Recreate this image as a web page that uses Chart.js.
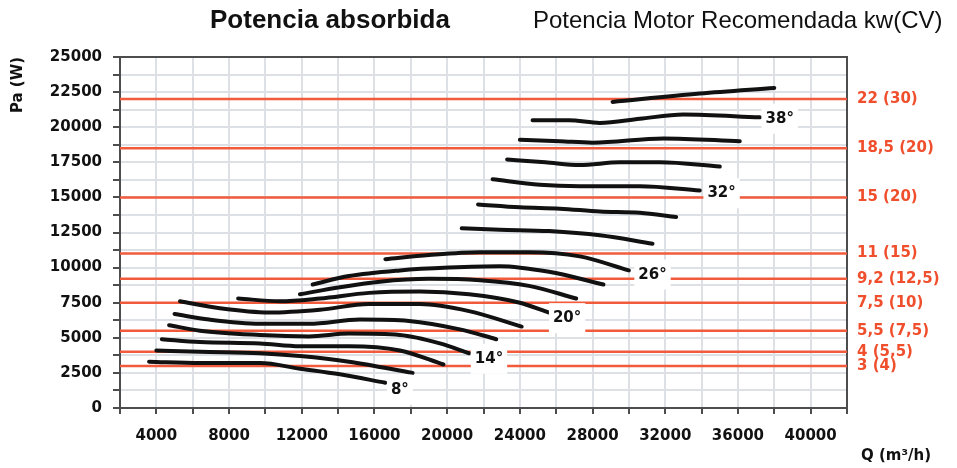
<!DOCTYPE html>
<html>
<head>
<meta charset="utf-8">
<script src="https://cdn.jsdelivr.net/npm/chart.js@4"></script>
<style>
  html, body { margin: 0; padding: 0; background: #fff; }
  #wrap { position: relative; width: 957px; height: 468px; }
  #c { position: absolute; left: 0; top: 0; }
  .t { position: absolute; white-space: nowrap; font-family: "Liberation Sans"; color: #111; }
</style>
</head>
<body>
<div id="wrap">
  <canvas id="c" width="957" height="468"></canvas>
  <div class="t" style="left:210px;top:4px;font-size:26px;font-weight:bold;">Potencia absorbida</div>
  <div class="t" style="left:533px;top:6px;font-size:24px;">Potencia Motor Recomendada kw(CV)</div>
</div>
<script>
// curvas de potencia absorbida por ángulo de pala: caudal Q (m3/h) y potencia (W)
const q8  = [3600, 6400, 9700, 11900, 14100, 16600];
const p8  = [3300, 3200, 3200, 2800, 2400, 1800];
const q10 = [4000, 6400, 9700, 11900, 14600, 18100];
const p10 = [4100, 4000, 3900, 3700, 3300, 2500];
const q12 = [4300, 6400, 9700, 11900, 14600, 17400, 19800];
const p12 = [4900, 4700, 4600, 4400, 4400, 4100, 3100];
const q14 = [4700, 6400, 9700, 12400, 14600, 17400, 19600, 21200];
const p14 = [5900, 5500, 5200, 5100, 5300, 5200, 4600, 3900];
const q16 = [5000, 6900, 9700, 12400, 15200, 17900, 20700, 22700];
const p16 = [6700, 6300, 6000, 6000, 6300, 6200, 5600, 4900];
const q18 = [5300, 7500, 10200, 13000, 15700, 18500, 21200, 24100];
const p18 = [7600, 7100, 6800, 7000, 7400, 7400, 6900, 5800];
const q20 = [8500, 10800, 13000, 15700, 18500, 21200, 24000, 25600];
const p20 = [7800, 7600, 7800, 8200, 8300, 8100, 7500, 6800];
const q22 = [11900, 14100, 16300, 19000, 21800, 24500, 27100];
const p22 = [8100, 8600, 9000, 9200, 9100, 8700, 7800];
const q24 = [12600, 14600, 17400, 20100, 22900, 25600, 28600];
const p24 = [8800, 9400, 9800, 10000, 10100, 9700, 8800];
const q26 = [16600, 19000, 21800, 24500, 27300, 30000];
const p26 = [10600, 10900, 11100, 11100, 10800, 9800];
const q28 = [20800, 22900, 25600, 28400, 31300];
const p28 = [12800, 12700, 12600, 12300, 11700];
const q30 = [21700, 24000, 26200, 28400, 30600, 32600];
const p30 = [14500, 14300, 14200, 14000, 13900, 13600];
const q32 = [22500, 25100, 27300, 30600, 33900];
const p32 = [16300, 15900, 15800, 15800, 15500];
const q34 = [23300, 25400, 27300, 29500, 31700, 35000];
const p34 = [17700, 17500, 17300, 17500, 17500, 17200];
const q36 = [24000, 26200, 28000, 31900, 36100];
const p36 = [19100, 19000, 18900, 19200, 19000];
const q38 = [24700, 26700, 28400, 30600, 33000, 37200];
const p38 = [20500, 20500, 20300, 20600, 20900, 20700];
const q40 = [29100, 33900, 38000];
const p40 = [21800, 22400, 22800];

// potencias de motor recomendadas (W) y su rótulo kw(CV)
const motorW = [3000, 4000, 5500, 7500, 9200, 11000, 15000, 18500, 22000];
const motorLabels = ['3 (4)', '4 (5,5)', '5,5 (7,5)', '7,5 (10)', '9,2 (12,5)', '11 (15)', '15 (20)', '18,5 (20)', '22 (30)'];

// rótulos de ángulo y dónde van
const angleLabels = ['8°', '14°', '20°', '26°', '32°', '38°'];
const angleQ = [17400, 22300, 26600, 31300, 35100, 38300];
const angleP = [1300, 3500, 6400, 9500, 15300, 20600];

const curves = [[q8, p8], [q10, p10], [q12, p12], [q14, p14], [q16, p16], [q18, p18],
  [q20, p20], [q22, p22], [q24, p24], [q26, p26], [q28, p28], [q30, p30],
  [q32, p32], [q34, p34], [q36, p36], [q38, p38], [q40, p40]];

const toPts = (qs, ps) => qs.map((v, i) => ({ x: v, y: ps[i] }));

const datasets = [];
motorW.forEach((w) => {
  datasets.push({
    data: [{ x: 2000, y: w }, { x: 42000, y: w }],
    borderColor: '#f25a3c', borderWidth: 2.5, pointRadius: 0, order: 2,
  });
});
curves.forEach(([qs, ps]) => {
  datasets.push({
    data: toPts(qs, ps),
    borderColor: '#111', borderWidth: 4, pointRadius: 0, order: 1,
    cubicInterpolationMode: 'monotone', borderCapStyle: 'round',
  });
});

const FONT = '"DejaVu Sans"';
const AXIS = '#4d4d4d';
const GRID = '#dde1e5';

const extras = {
  id: 'extras',
  beforeDatasetsDraw(chart) {
    const { ctx, chartArea: a } = chart;
    ctx.save();
    ctx.strokeStyle = AXIS; ctx.lineWidth = 2;
    ctx.beginPath(); ctx.moveTo(a.left, a.top); ctx.lineTo(a.right + 1, a.top); ctx.stroke();
    ctx.restore();
  },
  afterDatasetsDraw(chart) {
    const { ctx, scales: { x, y } } = chart;
    ctx.save();
    ctx.font = 'bold 15px ' + FONT;
    ctx.textAlign = 'center'; ctx.textBaseline = 'middle';
    angleLabels.forEach((t, i) => {
      const px = x.getPixelForValue(angleQ[i]);
      const py = y.getPixelForValue(angleP[i]);
      const w = ctx.measureText(t).width;
      ctx.fillStyle = '#fff';
      ctx.fillRect(px - w / 2 - 4, py - 15, w + 8, 30);
      ctx.fillStyle = '#111';
      ctx.fillText(t, px, py);
    });
    // títulos de ejes
    ctx.fillStyle = '#111';
    ctx.font = 'bold 15px ' + FONT;
    ctx.textAlign = 'left';
    ctx.fillText('Q (m³/h)', 861, 456);
    ctx.translate(18, 85);
    ctx.rotate(-Math.PI / 2);
    ctx.textAlign = 'center';
    ctx.fillText('Pa (W)', 0, 0);
    ctx.restore();
  },
};

new Chart(document.getElementById('c'), {
  type: 'line',
  data: { datasets: datasets },
  plugins: [extras],
  options: {
    responsive: false,
    animation: false,
    layout: { padding: { top: 57, left: 0, right: 0, bottom: 0 } },
    plugins: { legend: { display: false }, tooltip: { enabled: false } },
    scales: {
      x: {
        type: 'linear', min: 2000, max: 42000,
        afterFit: (s) => { s.height = 60; },
        ticks: {
          stepSize: 2000, autoSkip: false, maxRotation: 0, padding: 13,
          color: '#111', font: { family: FONT, weight: 'bold', size: 15 },
          callback: (v) => (v % 4000 === 0 ? v : ''),
        },
        grid: { color: GRID, lineWidth: 2, tickColor: AXIS, tickLength: 6, tickWidth: 2 },
        border: { color: AXIS, width: 2 },
      },
      y: {
        min: 0, max: 25000,
        afterFit: (s) => { s.width = 120; },
        ticks: {
          stepSize: 1250, autoSkip: false, padding: 11,
          color: '#111', font: { family: FONT, weight: 'bold', size: 15 },
          callback: (v) => (v % 2500 === 0 ? v : ''),
        },
        grid: { color: GRID, lineWidth: 2, tickColor: AXIS, tickLength: 7, tickWidth: 2 },
        border: { color: AXIS, width: 2 },
      },
      y2: {
        position: 'right', min: 0, max: 25000,
        afterFit: (s) => { s.width = 110; },
        afterBuildTicks: (s) => { s.ticks = motorW.map((v) => ({ value: v })); },
        ticks: {
          padding: 10, autoSkip: false,
          color: '#ef4f2c', font: { family: FONT, weight: 'bold', size: 15 },
          callback: (v) => motorLabels[motorW.indexOf(v)],
        },
        grid: { display: false, drawTicks: false },
        border: { color: AXIS, width: 2 },
      },
    },
  },
});
</script>
</body>
</html>
